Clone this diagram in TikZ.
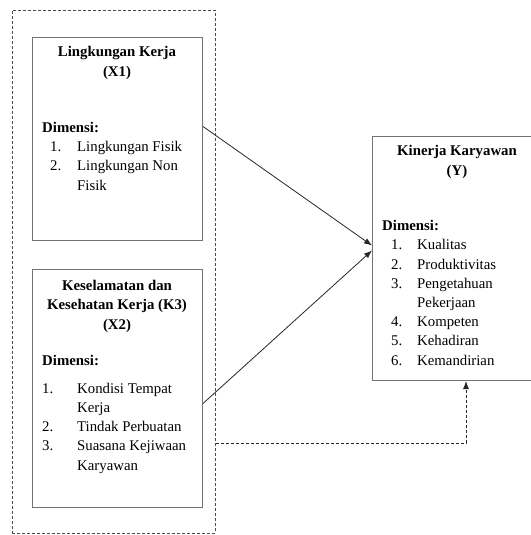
\documentclass[tikz,border=0pt]{standalone}
\usepackage{fontspec}
\setmainfont{Liberation Serif}
\usetikzlibrary{arrows.meta}
\tikzset{
    every node/.style={align=center,},
    varbox/.style={draw=black!55,line width=1pt,rectangle,minimum width=170pt,anchor=north west,inner sep=0pt,},
    groupbox/.style={draw=black!70,line width=0.8pt,dash pattern=on 3pt off 2pt,rectangle,anchor=north west,inner sep=0pt,},
    title/.style={font=\fontsize{14.8}{19.2}\selectfont\bfseries,inner sep=0pt,anchor=base,},
    dimlist/.style={font=\fontsize{14.8}{19.2}\selectfont,align=left,inner sep=0pt,anchor=base west,},
    link/.style={draw=black!85,line width=0.8pt,-{Latex[length=8pt,width=6pt]},},
}
\newcommand{\nr}[2]{\makebox[#1][l]{#2}}

\begin{document}
\begin{tikzpicture}[x=1pt,y=-1pt]
                \useasboundingbox (0,0) rectangle (530,535);

                \node[groupbox,minimum width=203pt,minimum height=523pt] (group) at (12,10) {};
                \node[varbox,minimum height=203pt] (x1) at (32,37) {};
                \node[varbox,minimum height=238pt] (x2) at (32,269) {};
                \node[varbox,minimum height=244pt] (y) at (372,136) {};

                % base anchor = baseline of the last line
                \node[title] (x1t) at (117,76) {Lingkungan Kerja\\(X1)};
                \node[dimlist] (x1d) at (42,190) {\textbf{Dimensi:}\\
                    \hspace{8pt}\nr{27pt}{1.}Lingkungan Fisik\\
                    \hspace{8pt}\nr{27pt}{2.}Lingkungan Non\\
                    \hspace{35pt}Fisik};

                \node[title] (x2t) at (117,329) {Keselamatan dan\\Kesehatan Kerja (K3)\\(X2)};
                \node[dimlist] (x2d) at (42,470) {\textbf{Dimensi:}\\[9pt]
                    \nr{35pt}{1.}Kondisi Tempat\\
                    \hspace{35pt}Kerja\\
                    \nr{35pt}{2.}Tindak Perbuatan\\
                    \nr{35pt}{3.}Suasana Kejiwaan\\
                    \hspace{35pt}Karyawan};

                \node[title] (yt) at (457,175) {Kinerja Karyawan\\(Y)};
                \node[dimlist] (yd) at (382,365) {\textbf{Dimensi:}\\
                    \hspace{9pt}\nr{26pt}{1.}Kualitas\\
                    \hspace{9pt}\nr{26pt}{2.}Produktivitas\\
                    \hspace{9pt}\nr{26pt}{3.}Pengetahuan\\
                    \hspace{35pt}Pekerjaan\\
                    \hspace{9pt}\nr{26pt}{4.}Kompeten\\
                    \hspace{9pt}\nr{26pt}{5.}Kehadiran\\
                    \hspace{9pt}\nr{26pt}{6.}Kemandirian};

                \draw[link] ([yshift=12.5pt]x1.east) to ([yshift=13pt]y.west);
                \draw[link] ([yshift=-15pt]x2.east) to ([yshift=8pt]y.west);

                \coordinate (bend) at (466,443);
                \draw[link,dash pattern=on 3pt off 2pt] (group.east |- bend) -- (bend) -- (y.south -| bend);
            \end{tikzpicture}
\end{document}
